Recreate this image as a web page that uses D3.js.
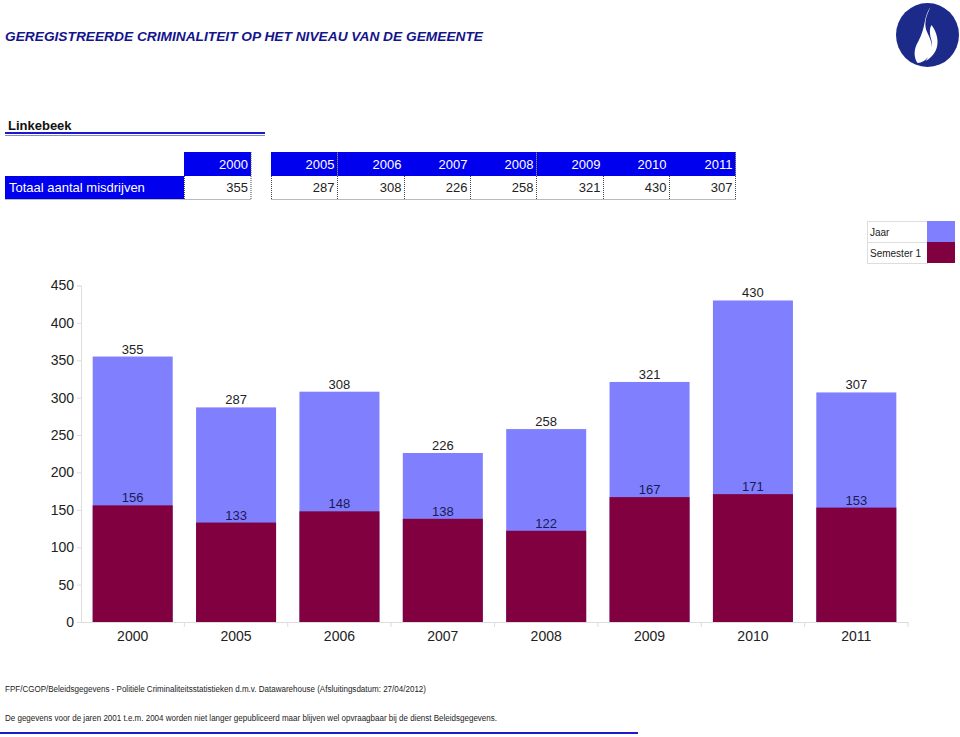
<!DOCTYPE html>
<html><head><meta charset="utf-8">
<script src="https://cdn.jsdelivr.net/npm/d3@7"></script>
<style>body{margin:0;background:#fff;font-family:Arial,"Liberation Sans",sans-serif;}</style>
</head><body>
<script>
const years = ["2000","2005","2006","2007","2008","2009","2010","2011"];
const totals = [355,287,308,226,258,321,430,307];
const semester1 = [156,133,148,138,122,167,171,153];
const yTicks = [0,50,100,150,200,250,300,350,400,450];
const seriesNames = ["Jaar","Semester 1"];
const seriesColors = ["#8080ff","#800040"];
const title = "GEREGISTREERDE CRIMINALITEIT OP HET NIVEAU VAN DE GEMEENTE";
const municipality = "Linkebeek";
const rowLabel = "Totaal aantal misdrijven";
const footer1 = "FPF/CGOP/Beleidsgegevens - Politiële Criminaliteitsstatistieken d.m.v. Datawarehouse (Afsluitingsdatum: 27/04/2012)";
const footer2 = "De gegevens voor de jaren 2001 t.e.m. 2004 worden niet langer gepubliceerd maar blijven wel opvraagbaar bij de dienst Beleidsgegevens.";

const W = 960, H = 737;
const svg = d3.select("body").append("svg").attr("width", W).attr("height", H)
  .style("font-family", "Arial, 'Liberation Sans', sans-serif");

// Title
svg.append("text").attr("x", 5).attr("y", 40.5).text(title)
  .attr("font-size", 13.5).attr("font-weight", "bold").attr("font-style", "italic")
  .attr("fill", "#14148c").attr("textLength", 478).attr("lengthAdjust", "spacingAndGlyphs");

// Logo
const logo = svg.append("g").attr("transform", "translate(927.5,35)");
logo.append("ellipse").attr("rx", 31.5).attr("ry", 32).attr("fill", "#1c2a8a");
logo.append("path").attr("fill", "#fff")
  .attr("d", "M3,-28 C-2,-18 -4,-10 0,-2 C4,6 6,12 2,20 C-1,25 -6,28 -10,28 C-14,22 -14,14 -9,6 C-6,0 -4,-6 -3,-12 C-2,-18 0,-24 3,-28 Z M4,-10 C10,-2 12,8 8,16 C6,20 2,24 -2,26 C4,18 6,10 3,2 C2,-3 2,-7 4,-10 Z");

// Municipality
svg.append("text").attr("x", 8).attr("y", 130).text(municipality)
  .attr("font-size", 13).attr("font-weight", "bold").attr("fill", "#111");
svg.append("line").attr("x1", 5).attr("x2", 265).attr("y1", 133).attr("y2", 133).attr("stroke", "#1a1acc").attr("stroke-width", 2);
svg.append("line").attr("x1", 5).attr("x2", 265).attr("y1", 135.5).attr("y2", 135.5).attr("stroke", "#8888cc").attr("stroke-width", 1);

// Table
const cellX = [184, 271, 338, 404, 470, 537, 603, 669];
const cellW = 66.5;
const hdrTop = 152, hdrH = 24, rowTop = 176, rowH = 23;
const tbl = svg.append("g");
tbl.append("rect").attr("x", 5).attr("y", rowTop).attr("width", 179).attr("height", rowH).attr("fill", "#0000ee");
tbl.append("text").attr("x", 9).attr("y", rowTop + 16).text(rowLabel).attr("font-size", 13).attr("fill", "#fff");
years.forEach((yr, i) => {
  const x0 = cellX[i], w = i === 0 ? 67 : cellW;
  tbl.append("rect").attr("x", x0).attr("y", hdrTop).attr("width", w).attr("height", hdrH).attr("fill", "#0000ee");
  tbl.append("text").attr("x", x0 + w - 3).attr("y", hdrTop + 16.5).attr("text-anchor", "end")
    .text(yr).attr("font-size", 13).attr("fill", "#fff");
  tbl.append("text").attr("x", x0 + w - 3).attr("y", rowTop + 16).attr("text-anchor", "end")
    .text(totals[i]).attr("font-size", 13).attr("fill", "#222");
  tbl.append("line").attr("x1", x0 + w).attr("x2", x0 + w).attr("y1", hdrTop).attr("y2", rowTop + rowH)
    .attr("stroke", "#444").attr("stroke-dasharray", "1,1");
  if (i === 0 || i === 1) {
    tbl.append("line").attr("x1", x0 + 0.5).attr("x2", x0 + 0.5).attr("y1", rowTop).attr("y2", rowTop + rowH)
      .attr("stroke", "#444").attr("stroke-dasharray", "1,1");
  }
});
tbl.append("line").attr("x1", 5).attr("x2", 251).attr("y1", rowTop + rowH + 0.5).attr("y2", rowTop + rowH + 0.5).attr("stroke", "#bbb");
tbl.append("line").attr("x1", 271).attr("x2", 736).attr("y1", rowTop + rowH + 0.5).attr("y2", rowTop + rowH + 0.5).attr("stroke", "#bbb");

// Legend
const lg = svg.append("g");
seriesNames.forEach((n, i) => {
  const y0 = 221 + i * 21;
  lg.append("rect").attr("x", 867.5).attr("y", y0 + 0.5).attr("width", 60).attr("height", 21).attr("fill", "#fff").attr("stroke", "#ddd");
  lg.append("rect").attr("x", 927).attr("y", y0).attr("width", 28).attr("height", 21).attr("fill", seriesColors[i]);
  lg.append("text").attr("x", 870).attr("y", y0 + 14.5).text(n).attr("font-size", 10).attr("fill", "#222");
});

// Chart
const y = d3.scaleLinear().domain([0, 450]).range([622, 285.5]);
const x = d3.scaleBand().domain(years).range([81, 908]).paddingInner(0.226).paddingOuter(0.113);
const band = d3.scaleBand().domain(years).range([81, 908]);

const yAxis = svg.append("g").attr("transform", "translate(81,0)")
  .call(d3.axisLeft(y).tickValues(yTicks).tickSize(4).tickPadding(3));
yAxis.select(".domain").attr("stroke", "#ddd");
yAxis.selectAll(".tick line").attr("stroke", "#ddd");
yAxis.selectAll("text").attr("font-size", 14).attr("fill", "#222").attr("font-family", "Arial, 'Liberation Sans', sans-serif");

const xAxis = svg.append("g").attr("transform", "translate(0,622)")
  .call(d3.axisBottom(band).tickSize(0).tickPadding(9));
xAxis.select(".domain").attr("stroke", "#ddd");
xAxis.selectAll("text").attr("font-size", 14).attr("fill", "#222").attr("font-family", "Arial, 'Liberation Sans', sans-serif");
svg.append("g").selectAll("line").data(years.slice(1).concat(["end"])).join("line")
  .attr("x1", (d, i) => i < 7 ? band(d) : 908).attr("x2", (d, i) => i < 7 ? band(d) : 908)
  .attr("y1", 622).attr("y2", 627).attr("stroke", "#ddd");

const bars = svg.append("g");
bars.selectAll("rect.jaar").data(years).join("rect").attr("class", "jaar")
  .attr("x", d => x(d)).attr("width", x.bandwidth())
  .attr("y", (d, i) => y(totals[i])).attr("height", (d, i) => y(0) - y(totals[i]))
  .attr("fill", seriesColors[0]);
bars.selectAll("rect.sem").data(years).join("rect").attr("class", "sem")
  .attr("x", d => x(d)).attr("width", x.bandwidth())
  .attr("y", (d, i) => y(semester1[i])).attr("height", (d, i) => y(0) - y(semester1[i]))
  .attr("fill", seriesColors[1]);
bars.selectAll("text.tl").data(years).join("text").attr("class", "tl")
  .attr("x", d => x(d) + x.bandwidth() / 2).attr("y", (d, i) => y(totals[i]) - 3)
  .attr("text-anchor", "middle").attr("font-size", 13).attr("fill", "#222")
  .text((d, i) => totals[i]);
bars.selectAll("text.sl").data(years).join("text").attr("class", "sl")
  .attr("x", d => x(d) + x.bandwidth() / 2).attr("y", (d, i) => y(semester1[i]) - 3)
  .attr("text-anchor", "middle").attr("font-size", 13).attr("fill", "#1a1a55")
  .text((d, i) => semester1[i]);

// Footer
svg.append("text").attr("x", 5).attr("y", 692).text(footer1).attr("font-size", 8.5).attr("fill", "#222")
  .attr("textLength", 421).attr("lengthAdjust", "spacingAndGlyphs");
svg.append("text").attr("x", 5).attr("y", 721).text(footer2).attr("font-size", 8.5).attr("fill", "#222")
  .attr("textLength", 492).attr("lengthAdjust", "spacingAndGlyphs");
svg.append("line").attr("x1", 0).attr("x2", 638).attr("y1", 733).attr("y2", 733).attr("stroke", "#1a1ad0").attr("stroke-width", 2);
</script>
</body></html>
